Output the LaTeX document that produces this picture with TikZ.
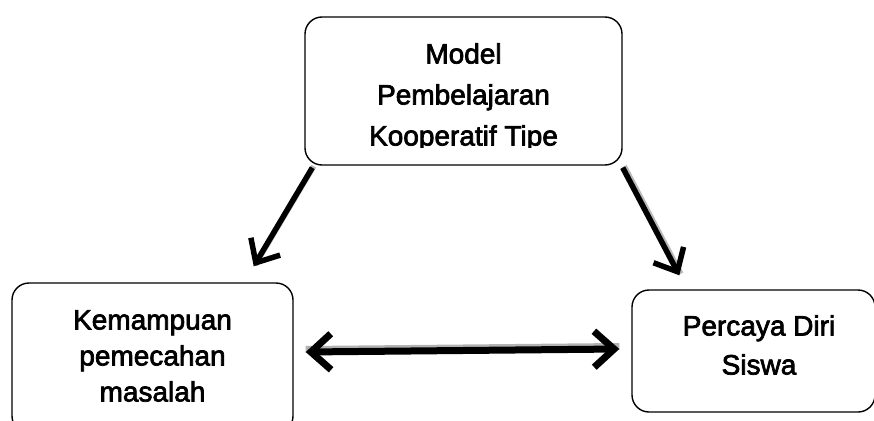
\documentclass[tikz,border=0pt]{standalone}
\usepackage{fontspec}
\usetikzlibrary{arrows.meta,calc}
\newfontfamily\boxfont{Liberation Sans}[FakeBold=2.5]

\tikzset{
  box/.style={draw, line width=1.4pt, rounded corners=17pt},
  boxtext/.style={anchor=north, inner sep=0pt, align=center},
  arr/.style={line width=5.5pt, -{Straight Barb[length=19pt,width=34pt]},
    preaction={draw=gray!55, line width=5.5pt, -, transform canvas={shift={(1.5pt,1.5pt)}}}},
  darr/.style={line width=7pt, {Straight Barb[length=20pt,width=36pt]}-{Straight Barb[length=20pt,width=36pt]},
    preaction={draw=gray!60, line width=7pt, -, transform canvas={shift={(0pt,2.5pt)}}}}
}

\begin{document}
\begin{tikzpicture}[x=1pt,y=-1pt]
    \useasboundingbox (0,0) rectangle (874,420);

    \node[box, minimum width=317pt, minimum height=148pt] (model) at (463.5,91) {};
    \node[box, minimum width=281pt, minimum height=150pt] (kem) at (152.5,358) {};
    \node[box, minimum width=243pt, minimum height=122pt] (per) at (753.5,351) {};

    \begin{scope}
      \clip (305,17) rectangle (622,147);
      \node[boxtext, font=\boxfont\fontsize{28}{41}\selectfont] (modeltext) at (463.5,43)
        {Model\\Pembelajaran\\Kooperatif Tipe};
    \end{scope}
    \node[boxtext, font=\boxfont\fontsize{28}{36}\selectfont] (kemtext) at (152.5,310)
        {Kemampuan\\pemecahan\\masalah};
    \node[boxtext, font=\boxfont\fontsize{28}{39}\selectfont] (pertext) at (759,315)
        {Percaya Diri\\Siswa};

    \draw[arr] ($(model.south west)+(8,2)$) -- ($(kem.north east)+(-40,-16)$);
    \draw[arr] ($(model.south east)+(0,2)$) -- ($(per.north west)+(48,-14)$);
    \draw[darr] ($(kem.east)+(12,-6)$) -- ($(per.west)+(-12,-2)$);
\end{tikzpicture}
\end{document}
